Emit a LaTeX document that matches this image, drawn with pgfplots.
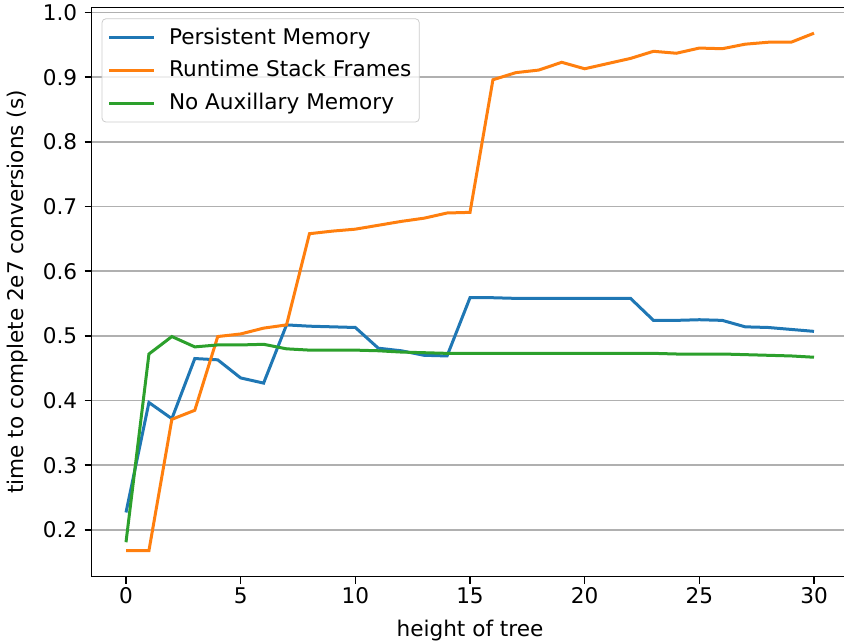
\documentclass[border=0pt]{standalone}
\usepackage{fontspec}
\setmainfont{DejaVu Sans}
\usepackage{pgfplots}
\pgfplotsset{compat=1.18}

\definecolor{mplblue}{HTML}{1F77B4}
\definecolor{mplorange}{HTML}{FF7F0E}
\definecolor{mplgreen}{HTML}{2CA02C}
\definecolor{gridgray}{HTML}{B0B0B0}

\begin{document}
\fontsize{10.8}{13}\selectfont
\begin{tikzpicture}
\begin{axis}[
  scale only axis,
  width=378.4pt, height=284.6pt,
  at={(0,0)}, anchor=south west,
  xmin=-1.5, xmax=31.5,
  ymin=0.128, ymax=1.008,
  xtick={0,5,...,30},
  ytick={0.2,0.3,0.4,0.5,0.6,0.7,0.8,0.9,1.0},
  tick pos=left,
  tick align=outside,
  major tick length=3.5pt,
  tick style={black, line width=0.8pt},
  axis line style={black, line width=0.8pt},
  ymajorgrids,
  grid style={gridgray, line width=0.8pt},
  /pgf/number format/assume math mode=true,
  ticklabel style={font=\fontsize{10.8}{13}\selectfont},
  xticklabel style={inner sep=0pt, anchor=north, yshift=-2pt},
  yticklabel style={inner sep=0pt, anchor=east, xshift=-3.5pt,
    /pgf/number format/fixed, /pgf/number format/fixed zerofill, /pgf/number format/precision=1},
  xlabel={height of tree},
  ylabel={time to complete 2e7 conversions (s)},
  xlabel style={at={(axis description cs:0.5,0)}, anchor=north, inner sep=0pt, yshift=-21.5pt, font=\fontsize{10.8}{13}\selectfont},
  ylabel style={at={(axis description cs:-0.083,0.5)}, anchor=south, inner sep=0pt, font=\fontsize{10.8}{13}\selectfont},
  legend cell align=left,
  legend image code/.code={\draw[#1] (0pt,0pt) -- (22pt,0pt);},
  legend style={draw=black!20, rounded corners=2pt, fill=white, fill opacity=0.8, text opacity=1,
    at={(0,1)}, anchor=north west, xshift=5pt, yshift=-5.5pt,
    inner xsep=3pt, inner ysep=3pt, row sep=3.6pt, column sep=6pt,
    font=\fontsize{10.8}{13}\selectfont,
    nodes={inner ysep=1.5pt, inner xsep=1pt}},
]
\addplot[mplblue, line width=1.5pt] coordinates {
(0,0.227) (1,0.397) (2,0.372) (3,0.465) (4,0.463) (5,0.435) (6,0.427)
(7,0.517) (8,0.515) (9,0.514) (10,0.513) (11,0.481) (12,0.477) (13,0.470)
(14,0.469) (15,0.559) (16,0.559) (17,0.558) (18,0.558) (19,0.558) (20,0.558)
(21,0.558) (22,0.558) (23,0.524) (24,0.524) (25,0.525) (26,0.524) (27,0.514)
(28,0.513) (29,0.510) (30,0.507)
};
\addlegendentry{Persistent Memory}
\addplot[mplorange, line width=1.5pt] coordinates {
(0,0.168) (1,0.168) (2,0.371) (3,0.385) (4,0.499) (5,0.503) (6,0.512)
(7,0.517) (8,0.658) (9,0.662) (10,0.665) (11,0.671) (12,0.677) (13,0.682)
(14,0.690) (15,0.691) (16,0.896) (17,0.907) (18,0.911) (19,0.923) (20,0.913)
(21,0.921) (22,0.929) (23,0.940) (24,0.937) (25,0.945) (26,0.944) (27,0.951)
(28,0.954) (29,0.954) (30,0.968)
};
\addlegendentry{Runtime Stack Frames}
\addplot[mplgreen, line width=1.5pt] coordinates {
(0,0.181) (1,0.472) (2,0.499) (3,0.483) (4,0.486) (5,0.486) (6,0.487)
(7,0.480) (8,0.478) (9,0.478) (10,0.478) (11,0.477) (12,0.475) (13,0.474)
(14,0.473) (15,0.473) (16,0.473) (17,0.473) (18,0.473) (19,0.473) (20,0.473)
(21,0.473) (22,0.473) (23,0.473) (24,0.472) (25,0.472) (26,0.472) (27,0.471)
(28,0.470) (29,0.469) (30,0.467)
};
\addlegendentry{No Auxillary Memory}
\end{axis}
\pgfresetboundingbox
\useasboundingbox (-45.8pt,-32.85pt) rectangle (376.2pt,288.25pt);
\end{tikzpicture}
\end{document}
